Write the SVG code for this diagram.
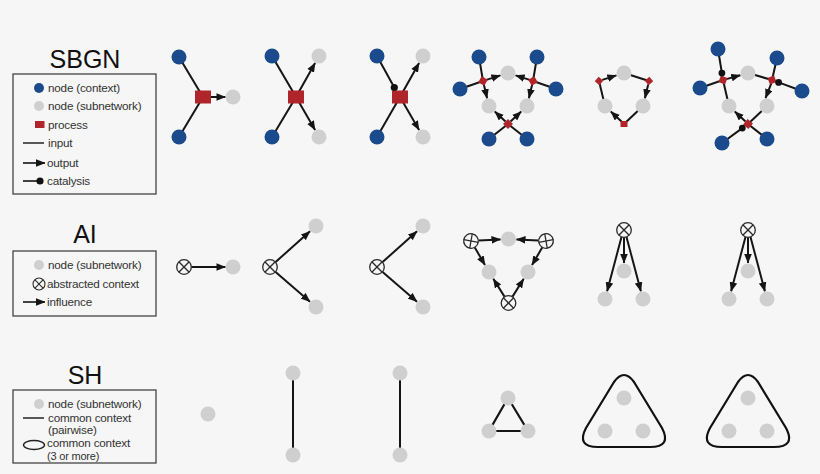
<svg xmlns="http://www.w3.org/2000/svg" xmlns:xlink="http://www.w3.org/1999/xlink" width="820" height="474" viewBox="0 0 820 474">
<style>
.bg{fill:#f6f6f6}
.ctx{fill:#1b4b8c}
.sub{fill:#cfcfcf}
.proc{fill:#b0252a}
.cat{fill:#111}
.ln{stroke:#151515;stroke-width:2;fill:none}
.ar{stroke:#151515;stroke-width:2;fill:none;marker-end:url(#arrow)}
.ox{fill:none;stroke:#2a2a2a;stroke-width:1.3}
.box{fill:none;stroke:#444;stroke-width:1.3}
.title{font-family:"Liberation Sans",Arial,sans-serif;font-size:25px;fill:#111;text-anchor:middle}
.lg{font-family:"Liberation Sans",Arial,sans-serif;font-size:11.7px;fill:#333;letter-spacing:-0.2px}
.hull{fill:none;stroke:#111;stroke-width:2.2;stroke-linejoin:round}
</style>
<defs>
<marker id="arrow" viewBox="0 0 10 8" refX="9.5" refY="4" markerWidth="9.5" markerHeight="8" markerUnits="userSpaceOnUse" orient="auto">
<path d="M0,0 L10,4 L0,8 z" fill="#151515"/>
</marker>
<g id="oxs">
<circle r="7.3" class="ox" fill="none"/>
<line x1="-5.2" y1="-5.2" x2="5.2" y2="5.2" class="ox"/>
<line x1="-5.2" y1="5.2" x2="5.2" y2="-5.2" class="ox"/>
</g>
</defs>
<rect class="bg" x="0" y="0" width="820" height="474"/>

<!-- Legends -->
<g id="legend-sbgn">
<text class="title" x="85" y="68">SBGN</text>
<rect class="box" x="13" y="74" width="143" height="120"/>
<circle class="ctx" cx="39" cy="88" r="5"/>
<text class="lg" x="48" y="92">node (context)</text>
<circle class="sub" cx="39" cy="106" r="5"/>
<text class="lg" x="48" y="110">node (subnetwork)</text>
<rect class="proc" x="35" y="121" width="9.5" height="7"/>
<text class="lg" x="48" y="129">process</text>
<line class="ln" x1="23" y1="143" x2="44" y2="143" style="stroke-width:1.4"/>
<text class="lg" x="48" y="147">input</text>
<line class="ar" x1="23" y1="163" x2="45" y2="163" style="stroke-width:1.6"/>
<text class="lg" x="47" y="167">output</text>
<line class="ln" x1="23" y1="181" x2="40" y2="181" style="stroke-width:1.6"/>
<circle class="cat" cx="40" cy="181" r="3.6"/>
<text class="lg" x="47" y="185">catalysis</text>
</g>
<g id="legend-ai">
<text class="title" x="85" y="243">AI</text>
<rect class="box" x="13" y="251" width="143" height="65"/>
<circle class="sub" cx="39" cy="265" r="5"/>
<text class="lg" x="48" y="269">node (subnetwork)</text>
<g transform="translate(39,284) scale(0.82)"><use xlink:href="#oxs"/></g>
<text class="lg" x="47" y="288">abstracted context</text>
<line class="ar" x1="23" y1="302" x2="45" y2="302" style="stroke-width:1.6"/>
<text class="lg" x="47" y="306">influence</text>
</g>
<g id="legend-sh">
<text class="title" x="85" y="384">SH</text>
<rect class="box" x="13" y="390" width="143" height="73"/>
<circle class="sub" cx="39" cy="404" r="5"/>
<text class="lg" x="48" y="408">node (subnetwork)</text>
<line class="ln" x1="23" y1="418" x2="44" y2="418" style="stroke-width:1.4"/>
<text class="lg" x="48" y="422">common context</text>
<text class="lg" x="48" y="434">(pairwise)</text>
<ellipse cx="34" cy="445" rx="10.5" ry="4.5" fill="none" stroke="#222" stroke-width="1.4"/>
<text class="lg" x="47" y="447">common context</text>
<text class="lg" x="47" y="460" style="font-size:11px">(3 or more)</text>
</g>

<!-- Connectors -->
<g id="connectors">
<!-- SBGN 1 -->
<line class="ln" x1="179" y1="57" x2="203" y2="97"/>
<line class="ln" x1="179" y1="137" x2="203" y2="97"/>
<line class="ar" x1="211" y1="97" x2="225.5" y2="97"/>
<!-- SBGN 2 -->
<line class="ln" x1="272" y1="56" x2="296" y2="97"/>
<line class="ln" x1="272" y1="137" x2="296" y2="97"/>
<line class="ar" x1="296" y1="97" x2="315.1" y2="63"/>
<line class="ar" x1="296" y1="97" x2="315.1" y2="130"/>
<!-- SBGN 3 -->
<line class="ln" x1="377" y1="56" x2="394.3" y2="87.5"/>
<line class="ln" x1="377" y1="137" x2="400" y2="97"/>
<line class="ar" x1="400" y1="97" x2="419.1" y2="63"/>
<line class="ar" x1="400" y1="97" x2="419.1" y2="130"/>
<!-- SBGN 4 -->
<line class="ln" x1="479" y1="57" x2="483" y2="81"/>
<line class="ln" x1="460" y1="89" x2="483" y2="81"/>
<line class="ln" x1="537" y1="57" x2="533" y2="81"/>
<line class="ln" x1="556" y1="89" x2="533" y2="81"/>
<line class="ln" x1="489" y1="139" x2="508" y2="124"/>
<line class="ln" x1="527" y1="139" x2="508" y2="124"/>
<line class="ar" x1="486.3" y1="79.9" x2="500.4" y2="75.4"/>
<line class="ar" x1="483.8" y1="84.4" x2="487.1" y2="98.2"/>
<line class="ar" x1="529.7" y1="79.9" x2="515.6" y2="75.4"/>
<line class="ar" x1="532.2" y1="84.4" x2="528.9" y2="98.2"/>
<line class="ar" x1="505.5" y1="121.6" x2="494.8" y2="111.5"/>
<line class="ar" x1="510.5" y1="121.6" x2="521.2" y2="111.5"/>
<!-- SBGN 5 -->
<line class="ln" x1="605" y1="106" x2="599" y2="81"/>
<line class="ln" x1="624" y1="73" x2="649" y2="81"/>
<line class="ln" x1="643" y1="106" x2="624" y2="124"/>
<line class="ar" x1="602.3" y1="79.9" x2="616.4" y2="75.4"/>
<line class="ar" x1="648.2" y1="84.4" x2="644.9" y2="98.2"/>
<line class="ar" x1="621.5" y1="121.6" x2="610.8" y2="111.5"/>
<!-- SBGN 6 -->
<line class="ln" x1="729" y1="106" x2="723" y2="80"/>
<line class="ln" x1="748" y1="73" x2="772" y2="80"/>
<line class="ln" x1="767" y1="106" x2="748" y2="124"/>
<line class="ln" x1="700" y1="88" x2="723" y2="80"/>
<line class="ln" x1="777" y1="58" x2="772" y2="80"/>
<line class="ln" x1="767" y1="139" x2="748" y2="124"/>
<line class="ln" x1="718" y1="49" x2="721.9" y2="73.1"/>
<line class="ln" x1="802" y1="91" x2="778.6" y2="82.4"/>
<line class="ln" x1="722" y1="143" x2="742.3" y2="128.1"/>
<line class="ar" x1="726.4" y1="79.1" x2="740.3" y2="75.2"/>
<line class="ar" x1="771.3" y1="83.4" x2="765.5" y2="98.1"/>
<line class="ar" x1="745.5" y1="121.6" x2="734.8" y2="111.5"/>
<!-- AI 1 -->
<line class="ar" x1="191.5" y1="267" x2="225.5" y2="267"/>
<!-- AI 2 -->
<line class="ar" x1="275.6" y1="262" x2="310" y2="231.3"/>
<line class="ar" x1="275.6" y1="272" x2="310" y2="301.7"/>
<!-- AI 3 -->
<line class="ar" x1="382.6" y1="262" x2="417" y2="231.3"/>
<line class="ar" x1="382.6" y1="272" x2="417" y2="301.7"/>
<!-- AI 4 -->
<line class="ar" x1="478.5" y1="240.6" x2="500.5" y2="239.4"/>
<line class="ar" x1="538.5" y1="240.6" x2="516.5" y2="239.4"/>
<line class="ar" x1="474.8" y1="247.5" x2="485" y2="265.1"/>
<line class="ar" x1="542.2" y1="247.5" x2="532" y2="265.1"/>
<line class="ar" x1="504.5" y1="296.6" x2="493.3" y2="278.8"/>
<line class="ar" x1="512.5" y1="296.6" x2="523.7" y2="278.8"/>
<!-- AI 5 -->
<line class="ar" x1="624" y1="237.5" x2="624" y2="263"/>
<line class="ar" x1="621.5" y1="237" x2="607.1" y2="291.3"/>
<line class="ar" x1="626.5" y1="237" x2="640.9" y2="291.3"/>
<!-- AI 6 -->
<line class="ar" x1="748" y1="237.5" x2="748" y2="263"/>
<line class="ar" x1="745.5" y1="237" x2="731.1" y2="291.3"/>
<line class="ar" x1="750.5" y1="237" x2="764.9" y2="291.3"/>
<!-- SH -->
<line class="ln" x1="293" y1="373" x2="293" y2="455"/>
<line class="ln" x1="400" y1="373" x2="400" y2="455"/>
<path class="ln" d="M508,398 L489,431 L528,431 Z" style="stroke-width:2.2"/>
<path id="sh5-hull" class="hull" d="M614,382 Q624,368 634,382 L662,428 Q672,447 650,447 L598,447 Q576,447 586,428 Z"/>
<path id="sh6-hull" class="hull" d="M738,382 Q748,368 758,382 L786,428 Q796,447 774,447 L722,447 Q700,447 710,428 Z"/>
</g>

<!-- SBGN nodes -->
<g id="s1-c1"><circle class="ctx" cx="179" cy="57" r="7.5"/></g>
<g id="s1-c2"><circle class="ctx" cx="179" cy="137" r="7.5"/></g>
<g id="s1-p"><rect class="proc" x="195" y="90.5" width="16" height="13"/></g>
<g id="s1-s1"><circle class="sub" cx="233" cy="97" r="7.5"/></g>

<g id="s2-c1"><circle class="ctx" cx="272" cy="56" r="7.5"/></g>
<g id="s2-c2"><circle class="ctx" cx="272" cy="137" r="7.5"/></g>
<g id="s2-p"><rect class="proc" x="288" y="90.5" width="16" height="13"/></g>
<g id="s2-s1"><circle class="sub" cx="319" cy="56" r="7.5"/></g>
<g id="s2-s2"><circle class="sub" cx="319" cy="137" r="7.5"/></g>

<g id="s3-c1"><circle class="ctx" cx="377" cy="56" r="7.5"/></g>
<g id="s3-c2"><circle class="ctx" cx="377" cy="137" r="7.5"/></g>
<g id="s3-p"><rect class="proc" x="392" y="90.5" width="16" height="13"/></g>
<g id="s3-cat"><circle class="cat" cx="394.3" cy="87.5" r="3.6"/></g>
<g id="s3-s1"><circle class="sub" cx="423" cy="56" r="7.5"/></g>
<g id="s3-s2"><circle class="sub" cx="423" cy="137" r="7.5"/></g>

<g id="s4-c1"><circle class="ctx" cx="479" cy="57" r="7.5"/></g>
<g id="s4-c2"><circle class="ctx" cx="460" cy="89" r="7.5"/></g>
<g id="s4-c3"><circle class="ctx" cx="537" cy="57" r="7.5"/></g>
<g id="s4-c4"><circle class="ctx" cx="556" cy="89" r="7.5"/></g>
<g id="s4-c5"><circle class="ctx" cx="489" cy="139" r="7.5"/></g>
<g id="s4-c6"><circle class="ctx" cx="527" cy="139" r="7.5"/></g>
<g id="s4-s1"><circle class="sub" cx="508" cy="73" r="7.5"/></g>
<g id="s4-s2"><circle class="sub" cx="489" cy="106" r="7.5"/></g>
<g id="s4-s3"><circle class="sub" cx="527" cy="106" r="7.5"/></g>
<g id="s4-p1"><rect class="proc" x="-3.5" y="-3.5" width="7" height="7" transform="translate(483,81) rotate(30)"/></g>
<g id="s4-p2"><rect class="proc" x="-3.5" y="-3.5" width="7" height="7" transform="translate(533,81) rotate(-30)"/></g>
<g id="s4-p3"><rect class="proc" x="-3.5" y="-3.5" width="7" height="7" transform="translate(508,124) rotate(45)"/></g>

<g id="s5-s1"><circle class="sub" cx="624" cy="73" r="7.5"/></g>
<g id="s5-s2"><circle class="sub" cx="605" cy="106" r="7.5"/></g>
<g id="s5-s3"><circle class="sub" cx="643" cy="106" r="7.5"/></g>
<g id="s5-p1"><rect class="proc" x="-3" y="-3" width="6" height="6" transform="translate(599,81) rotate(40)"/></g>
<g id="s5-p2"><rect class="proc" x="-3" y="-3" width="6" height="6" transform="translate(649,81) rotate(-40)"/></g>
<g id="s5-p3"><rect class="proc" x="-3.5" y="-3" width="7" height="6" transform="translate(624,124)"/></g>

<g id="s6-c1"><circle class="ctx" cx="718" cy="49" r="7.5"/></g>
<g id="s6-c2"><circle class="ctx" cx="700" cy="88" r="7.5"/></g>
<g id="s6-c3"><circle class="ctx" cx="777" cy="58" r="7.5"/></g>
<g id="s6-c4"><circle class="ctx" cx="802" cy="91" r="7.5"/></g>
<g id="s6-c5"><circle class="ctx" cx="722" cy="143" r="7.5"/></g>
<g id="s6-c6"><circle class="ctx" cx="767" cy="139" r="7.5"/></g>
<g id="s6-s1"><circle class="sub" cx="748" cy="73" r="7.5"/></g>
<g id="s6-s2"><circle class="sub" cx="729" cy="106" r="7.5"/></g>
<g id="s6-s3"><circle class="sub" cx="767" cy="106" r="7.5"/></g>
<g id="s6-p1"><rect class="proc" x="-3.5" y="-3.5" width="7" height="7" transform="translate(723,80) rotate(20)"/></g>
<g id="s6-p2"><rect class="proc" x="-3.5" y="-3.5" width="7" height="7" transform="translate(772,80) rotate(-20)"/></g>
<g id="s6-p3"><rect class="proc" x="-3.5" y="-3.5" width="7" height="7" transform="translate(748,124) rotate(40)"/></g>
<g id="s6-k1"><circle class="cat" cx="721.9" cy="73.1" r="3.4"/></g>
<g id="s6-k2"><circle class="cat" cx="778.6" cy="82.4" r="3.4"/></g>
<g id="s6-k3"><circle class="cat" cx="742.3" cy="128.1" r="3.4"/></g>

<!-- AI nodes -->
<g id="a1-x"><use xlink:href="#oxs" x="184" y="267"/></g>
<g id="a1-s1"><circle class="sub" cx="233" cy="267" r="7.5"/></g>
<g id="a2-x"><use xlink:href="#oxs" x="270" y="267"/></g>
<g id="a2-s1"><circle class="sub" cx="316" cy="226" r="7.5"/></g>
<g id="a2-s2"><circle class="sub" cx="316" cy="307" r="7.5"/></g>
<g id="a3-x"><use xlink:href="#oxs" x="377" y="267"/></g>
<g id="a3-s1"><circle class="sub" cx="423" cy="226" r="7.5"/></g>
<g id="a3-s2"><circle class="sub" cx="423" cy="307" r="7.5"/></g>
<g id="a4-x1"><g transform="translate(471,241) rotate(55)"><use xlink:href="#oxs"/></g></g>
<g id="a4-x2"><g transform="translate(546,241) rotate(-55)"><use xlink:href="#oxs"/></g></g>
<g id="a4-x3"><use xlink:href="#oxs" x="508.5" y="303"/></g>
<g id="a4-s1"><circle class="sub" cx="508.5" cy="239" r="7.5"/></g>
<g id="a4-s2"><circle class="sub" cx="489" cy="272" r="7.5"/></g>
<g id="a4-s3"><circle class="sub" cx="528" cy="272" r="7.5"/></g>
<g id="a5-x"><use xlink:href="#oxs" x="624" y="230"/></g>
<g id="a5-s1"><circle class="sub" cx="624" cy="271" r="7.5"/></g>
<g id="a5-s2"><circle class="sub" cx="605" cy="299" r="7.5"/></g>
<g id="a5-s3"><circle class="sub" cx="643" cy="299" r="7.5"/></g>
<g id="a6-x"><use xlink:href="#oxs" x="748" y="230"/></g>
<g id="a6-s1"><circle class="sub" cx="748" cy="271" r="7.5"/></g>
<g id="a6-s2"><circle class="sub" cx="729" cy="299" r="7.5"/></g>
<g id="a6-s3"><circle class="sub" cx="767" cy="299" r="7.5"/></g>

<!-- SH nodes -->
<g id="h1-s1"><circle class="sub" cx="208" cy="414" r="7.5"/></g>
<g id="h2-s1"><circle class="sub" cx="293" cy="373" r="7.5"/></g>
<g id="h2-s2"><circle class="sub" cx="293" cy="455" r="7.5"/></g>
<g id="h3-s1"><circle class="sub" cx="400" cy="373" r="7.5"/></g>
<g id="h3-s2"><circle class="sub" cx="400" cy="455" r="7.5"/></g>
<g id="h4-s1"><circle class="sub" cx="508" cy="398" r="7.5"/></g>
<g id="h4-s2"><circle class="sub" cx="489" cy="431" r="7.5"/></g>
<g id="h4-s3"><circle class="sub" cx="528" cy="431" r="7.5"/></g>
<g id="h5-s1"><circle class="sub" cx="624" cy="398" r="7.5"/></g>
<g id="h5-s2"><circle class="sub" cx="605" cy="431" r="7.5"/></g>
<g id="h5-s3"><circle class="sub" cx="643" cy="431" r="7.5"/></g>
<g id="h6-s1"><circle class="sub" cx="748" cy="398" r="7.5"/></g>
<g id="h6-s2"><circle class="sub" cx="729" cy="431" r="7.5"/></g>
<g id="h6-s3"><circle class="sub" cx="767" cy="431" r="7.5"/></g>
</svg>
